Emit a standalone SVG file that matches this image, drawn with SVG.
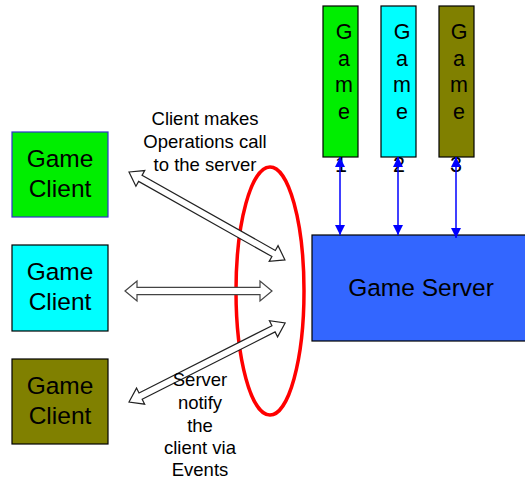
<svg xmlns="http://www.w3.org/2000/svg" width="525" height="484" viewBox="0 0 525 484">
<style>
text{font-family:"Liberation Sans",Arial,sans-serif;fill:#000}
.box{stroke:#000;stroke-width:1.2}
.big{font-size:24.5px;text-anchor:middle}
.pl{font-size:21.5px;text-anchor:middle}
.lbl{font-size:18.5px;text-anchor:middle}
.hollow{fill:#fff;stroke:#222;stroke-width:1.2}
.blue{stroke:#0000ff;stroke-width:1.5;fill:none;marker-start:url(#bh);marker-end:url(#bh)}
</style>
<defs>
<marker id="bh" viewBox="0 0 10 10" refX="10" refY="5" markerWidth="10" markerHeight="10" markerUnits="userSpaceOnUse" orient="auto-start-reverse">
<path d="M0,0 L10,5 L0,10 Z" fill="#0000ff"/>
</marker>
</defs>
<rect width="525" height="484" fill="#fff"/>

<g id="client1"><rect class="box" x="12" y="132" width="96" height="85" fill="#00ee00" style="stroke:#3333cc"/><text class="big" x="60" y="167">Game</text><text class="big" x="60" y="197">Client</text></g>
<g id="client2"><rect class="box" x="12" y="245" width="96" height="86" fill="#00ffff"/><text class="big" x="60" y="280">Game</text><text class="big" x="60" y="310">Client</text></g>
<g id="client3"><rect class="box" x="12" y="359" width="96" height="85" fill="#808000"/><text class="big" x="60" y="394">Game</text><text class="big" x="60" y="424">Client</text></g>

<g id="game1"><rect class="box" x="323" y="6" width="35" height="151" fill="#00ee00"/>
<text class="pl" x="344" y="39">G</text><text class="pl" x="344" y="66">a</text><text class="pl" x="344" y="92">m</text><text class="pl" x="344" y="119">e</text><text class="pl" x="341" y="172">1</text></g>
<g id="game2"><rect class="box" x="381" y="6" width="35" height="151" fill="#00ffff"/>
<text class="pl" x="402" y="39">G</text><text class="pl" x="402" y="66">a</text><text class="pl" x="402" y="92">m</text><text class="pl" x="402" y="119">e</text><text class="pl" x="399" y="172">2</text></g>
<g id="game3"><rect class="box" x="439" y="6" width="35" height="151" fill="#808000"/>
<text class="pl" x="459" y="39">G</text><text class="pl" x="459" y="66">a</text><text class="pl" x="459" y="92">m</text><text class="pl" x="459" y="119">e</text><text class="pl" x="456" y="172">3</text></g>

<g id="server"><rect class="box" x="312" y="235" width="220" height="106" fill="#3366ff"/><text class="big" x="421" y="296">Game Server</text></g>

<g id="boundary"><ellipse cx="270" cy="291" rx="34" ry="124" fill="none" stroke="#ff0000" stroke-width="3.5"/></g>

<g id="connectors">
<line class="blue" x1="340" y1="157" x2="340" y2="235"/>
<line class="blue" x1="398" y1="157" x2="398" y2="235"/>
<line class="blue" x1="456" y1="157" x2="456" y2="238"/>
<polygon class="hollow" transform="translate(129,172) rotate(29.4)" points="0,0 13,-9 13,-3.5 166,-3.5 166,-9 179,0 166,9 166,3.5 13,3.5 13,9"/>
<polygon class="hollow" transform="translate(125,291)" points="0,0 12,-10 12,-3.7 135,-3.7 135,-10 147,0 135,10 135,3.7 12,3.7 12,10" style="stroke:#444"/>
<polygon class="hollow" transform="translate(129,402) rotate(-26.86)" points="0,0 13,-9 13,-3.5 162,-3.5 162,-9 175,0 162,9 162,3.5 13,3.5 13,9"/>
</g>

<g id="labels">
<text class="lbl" x="205" y="125">Client makes</text>
<text class="lbl" x="205" y="148">Operations call</text>
<text class="lbl" x="205" y="171">to the server</text>
<text class="lbl" x="200" y="386">Server</text>
<text class="lbl" x="200" y="409">notify</text>
<text class="lbl" x="200" y="432">the</text>
<text class="lbl" x="200" y="454">client via</text>
<text class="lbl" x="200" y="476">Events</text>
</g>
</svg>
